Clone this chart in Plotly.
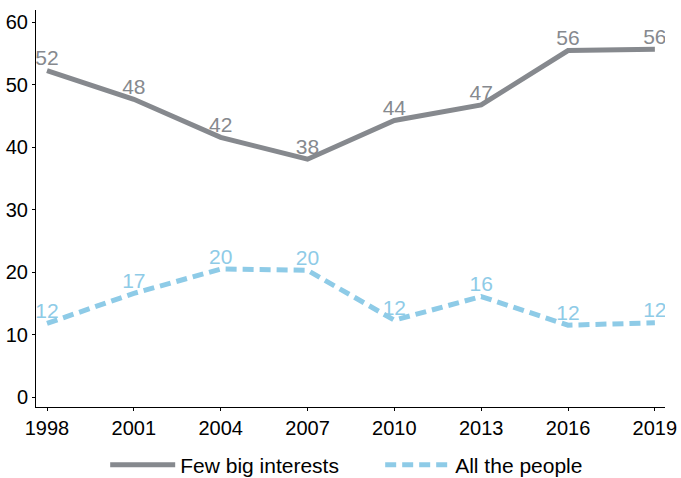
import plotly.graph_objects as go

# 数据
years = [1998, 2001, 2004, 2007, 2010, 2013, 2016, 2019]
few_big = [52.3, 47.7, 41.6, 38.1, 44.3, 46.8, 55.5, 55.7]
few_big_labels = ["52", "48", "42", "38", "44", "47", "56", "56"]
all_people = [11.8, 16.6, 20.5, 20.3, 12.3, 16.1, 11.5, 11.9]
all_people_labels = ["12", "17", "20", "20", "12", "16", "12", "12"]

GRAY = "#86898e"
BLUE = "#8ecbe7"
FONT = "Liberation Sans, Arial, sans-serif"

fig = go.Figure()

fig.add_trace(go.Scatter(
    x=years, y=few_big, name="Few big interests",
    mode="lines+text", text=few_big_labels, textposition="top center",
    textfont=dict(color=GRAY, size=21, family=FONT),
    line=dict(color=GRAY, width=5),
))
fig.add_trace(go.Scatter(
    x=years, y=all_people, name="All the people",
    mode="lines+text", text=all_people_labels, textposition="top center",
    textfont=dict(color=BLUE, size=21, family=FONT),
    line=dict(color=BLUE, width=5, dash="11px,6px"),
))

fig.update_layout(
    width=681, height=478,
    margin=dict(l=36, r=16, t=10, b=71),
    plot_bgcolor="white", paper_bgcolor="white",
    font=dict(family=FONT, size=20, color="black"),
    showlegend=True,
    legend=dict(orientation="h", x=0.11, xanchor="left",
                yref="container", y=0.027, yanchor="middle",
                font=dict(size=21), itemwidth=65, entrywidth=195),
    xaxis=dict(range=[1997.62, 2019.35], tickvals=years, showgrid=False,
               showline=True, linecolor="black", linewidth=1,
               ticks="outside", ticklen=3, tickcolor="black", zeroline=False,
               ticklabeloverflow="allow", automargin=False),
    yaxis=dict(range=[-1.6, 62], tickvals=[0, 10, 20, 30, 40, 50, 60], showgrid=False,
               showline=True, linecolor="black", linewidth=1,
               ticks="outside", ticklen=3, tickcolor="black", zeroline=False,
               automargin=False),
)

# 去掉页面默认边距
fig.write_html("out.html", config={"displayModeBar": False},
               post_script="document.body.style.margin='0';document.body.style.overflow='hidden';")
